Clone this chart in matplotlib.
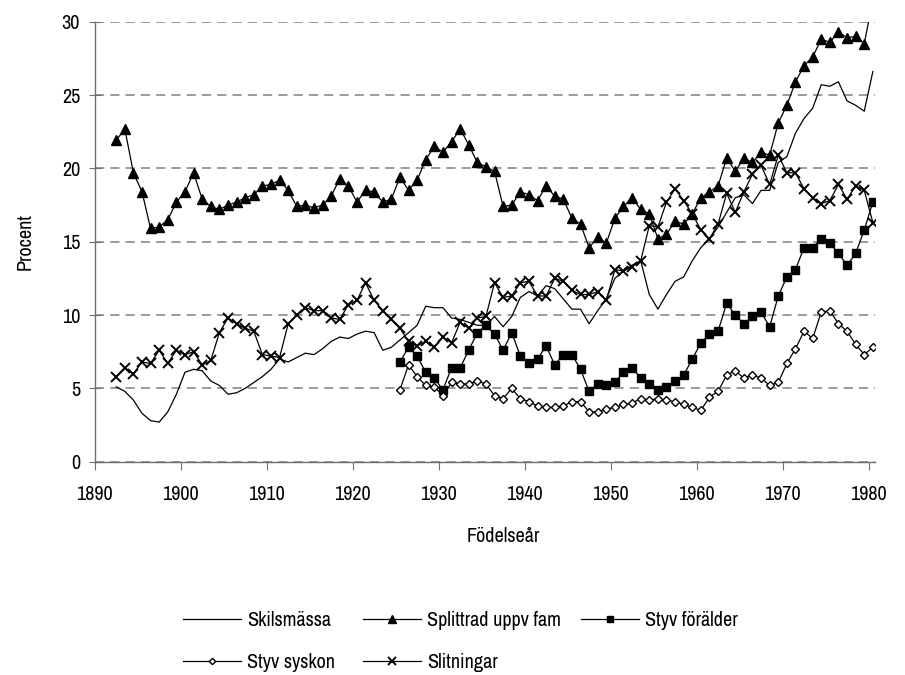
import matplotlib
matplotlib.use("Agg")
import matplotlib.pyplot as plt
from matplotlib import font_manager
import numpy as np

# the original uses a narrow Arial-like face; take a narrow one if there is one
narrow = sorted({f.name for f in font_manager.fontManager.ttflist
                 if 'Narrow' in f.name or 'Condensed' in f.name})
plt.rcParams['font.family'] = narrow[:1] + ['Liberation Sans', 'DejaVu Sans']

# birth cohorts
years = list(range(1892, 1981))
years_late = list(range(1925, 1981))

skilsmassa = [5.1, 4.8, 4.2, 3.3, 2.8, 2.7, 3.4, 4.6, 6.1, 6.3,
              6.2, 5.5, 5.2, 4.6, 4.7, 5.0, 5.4, 5.8, 6.3, 7.0,
              6.8, 7.1, 7.4, 7.3, 7.7, 8.2, 8.5, 8.4, 8.7, 8.9,
              8.8, 7.6, 7.8, 8.3, 8.8, 9.3, 10.6, 10.5, 10.5, 9.8,
              9.7, 9.5, 9.3, 9.3, 9.9, 9.2, 9.9, 11.2, 11.6, 11.3,
              12.0, 11.8, 11.1, 10.4, 10.4, 9.4, 10.3, 11.1, 12.5, 13.0,
              13.4, 13.7, 11.4, 10.4, 11.4, 12.3, 12.6, 13.7, 14.6, 15.2,
              16.0, 17.0, 18.0, 18.2, 17.6, 18.5, 18.5, 20.4, 20.8, 22.4,
              23.4, 24.1, 25.7, 25.6, 25.9, 24.6, 24.3, 23.9, 26.6]

splittrad = [21.9, 22.7, 19.7, 18.4, 15.9, 16.0, 16.5, 17.7, 18.4, 19.7,
             17.9, 17.4, 17.2, 17.5, 17.7, 18.0, 18.2, 18.8, 18.9, 19.2,
             18.5, 17.4, 17.5, 17.3, 17.5, 18.1, 19.3, 18.8, 17.7, 18.5,
             18.4, 17.7, 17.9, 19.4, 18.5, 19.2, 20.6, 21.5, 21.1, 21.8,
             22.7, 21.6, 20.4, 20.1, 19.8, 17.4, 17.5, 18.4, 18.2, 17.8,
             18.8, 18.1, 17.9, 16.6, 16.2, 14.6, 15.3, 14.9, 16.6, 17.4,
             18.0, 17.2, 16.9, 15.2, 15.5, 16.4, 16.2, 16.9, 18.0, 18.4,
             18.8, 20.7, 19.8, 20.7, 20.4, 21.1, 20.9, 23.1, 24.3, 25.9,
             27.0, 27.6, 28.8, 28.6, 29.3, 28.9, 29.0, 28.5, 31.5]

styv_foralder = [6.8, 7.8, 7.2, 6.1, 5.7, 4.9, 6.4, 6.4, 7.6, 8.8,
                 9.3, 8.7, 7.6, 8.8, 7.2, 6.7, 7.0, 7.9, 6.6, 7.3,
                 7.3, 6.3, 4.8, 5.3, 5.2, 5.4, 6.1, 6.4, 5.7, 5.3,
                 4.9, 5.1, 5.5, 5.9, 7.0, 8.1, 8.7, 8.9, 10.8, 10.0,
                 9.4, 9.9, 10.2, 9.2, 11.3, 12.6, 13.1, 14.6, 14.6, 15.2,
                 14.9, 14.2, 13.4, 14.2, 15.8, 17.7]

styv_syskon = [4.9, 6.6, 5.8, 5.2, 5.1, 4.5, 5.4, 5.3, 5.3, 5.5,
               5.3, 4.5, 4.3, 5.0, 4.3, 4.1, 3.8, 3.7, 3.7, 3.8,
               4.1, 4.1, 3.4, 3.4, 3.6, 3.7, 3.9, 4.0, 4.3, 4.2,
               4.3, 4.2, 4.1, 3.9, 3.7, 3.5, 4.4, 4.8, 5.9, 6.2,
               5.7, 5.9, 5.7, 5.2, 5.4, 6.7, 7.7, 8.9, 8.4, 10.2,
               10.3, 9.4, 8.9, 8.0, 7.3, 7.8]

slitningar = [5.8, 6.4, 6.0, 6.8, 6.7, 7.6, 6.7, 7.6, 7.3, 7.5,
              6.6, 6.9, 8.8, 9.8, 9.4, 9.1, 8.9, 7.3, 7.2, 7.1,
              9.4, 10.0, 10.5, 10.3, 10.3, 9.8, 9.7, 10.7, 11.0, 12.2,
              11.0, 10.3, 9.7, 9.1, 8.2, 7.9, 8.2, 7.8, 8.5, 8.1,
              9.5, 9.1, 9.8, 9.9, 12.2, 11.2, 11.3, 12.2, 12.3, 11.3,
              11.3, 12.5, 12.3, 11.7, 11.4, 11.4, 11.6, 11.0, 13.1, 13.0,
              13.3, 13.7, 16.1, 16.0, 17.7, 18.6, 17.8, 16.9, 15.8, 15.2,
              16.2, 18.3, 17.0, 18.4, 19.6, 20.2, 18.9, 20.9, 19.7, 19.7,
              18.6, 18.0, 17.6, 17.8, 18.9, 17.9, 18.8, 18.5, 16.3]

labels = ['Skilsmässa', 'Splittrad uppv fam', 'Styv förälder', 'Styv syskon', 'Slitningar']

W, H = 905, 675
fig = plt.figure(figsize=(W / 100, H / 100), dpi=100)
ax = fig.add_axes([94.7 / W, 1 - 461.7 / H, (875 - 94.7) / W, (461.7 - 21.7) / H])

# cohort values sit mid-year
x1 = np.array(years) + 0.5
x2 = np.array(years_late) + 0.5

lw = 0.9
h1, = ax.plot(x1, skilsmassa, color='black', lw=lw)
h2, = ax.plot(x1, splittrad, color='black', lw=lw, marker='^', ms=7, mfc='black', mec='black')
h3, = ax.plot(x2, styv_foralder, color='black', lw=lw, marker='s', ms=6, mfc='black', mec='black')
h4, = ax.plot(x2, styv_syskon, color='black', lw=lw, marker='D', ms=4, mfc='white', mec='black', mew=1.0)
h5, = ax.plot(x1, slitningar, color='black', lw=lw, marker='x', ms=6.5, mec='black', mew=1.4)

ax.set_xlim(1890, 1980.75)
ax.set_ylim(0, 30)
ax.set_xticks(range(1890, 1981, 10))
ax.set_yticks(range(0, 31, 5))
ax.yaxis.grid(True, color='#808080', linestyle=(0, (6, 4)), linewidth=1.1)
ax.set_axisbelow(True)
for s in ['top', 'right']:
    ax.spines[s].set_visible(False)
for s in ['left', 'bottom']:
    ax.spines[s].set_color('#6e6e6e')
    ax.spines[s].set_linewidth(1.0)
fs = 14.5
ax.tick_params(axis='x', direction='out', length=6, color='#6e6e6e', labelsize=fs, pad=11)
ax.tick_params(axis='y', direction='inout', length=9, color='#6e6e6e', labelsize=fs, pad=6)

fig.text(25 / W, 1 - 241 / H, 'Procent', rotation=90, ha='center', va='center', fontsize=fs)
fig.text(503 / W, 1 - 536 / H, 'Födelseår', ha='center', va='center', fontsize=fs)

# legend: three columns, placed one by one like the original
cols = [([h1, h4], [labels[0], labels[3]], 183),
        ([h2, h5], [labels[1], labels[4]], 363),
        ([h3], [labels[2]], 581)]
for hs, names, x0 in cols:
    fig.legend(hs, names, loc='upper left', bbox_to_anchor=(x0 / W, 1 - 611 / H),
               frameon=False, fontsize=fs, handlelength=2.9, handletextpad=0.3,
               borderpad=0, borderaxespad=0, labelspacing=1.15, markerscale=0.8)

fig.savefig('out.png', dpi=100)
